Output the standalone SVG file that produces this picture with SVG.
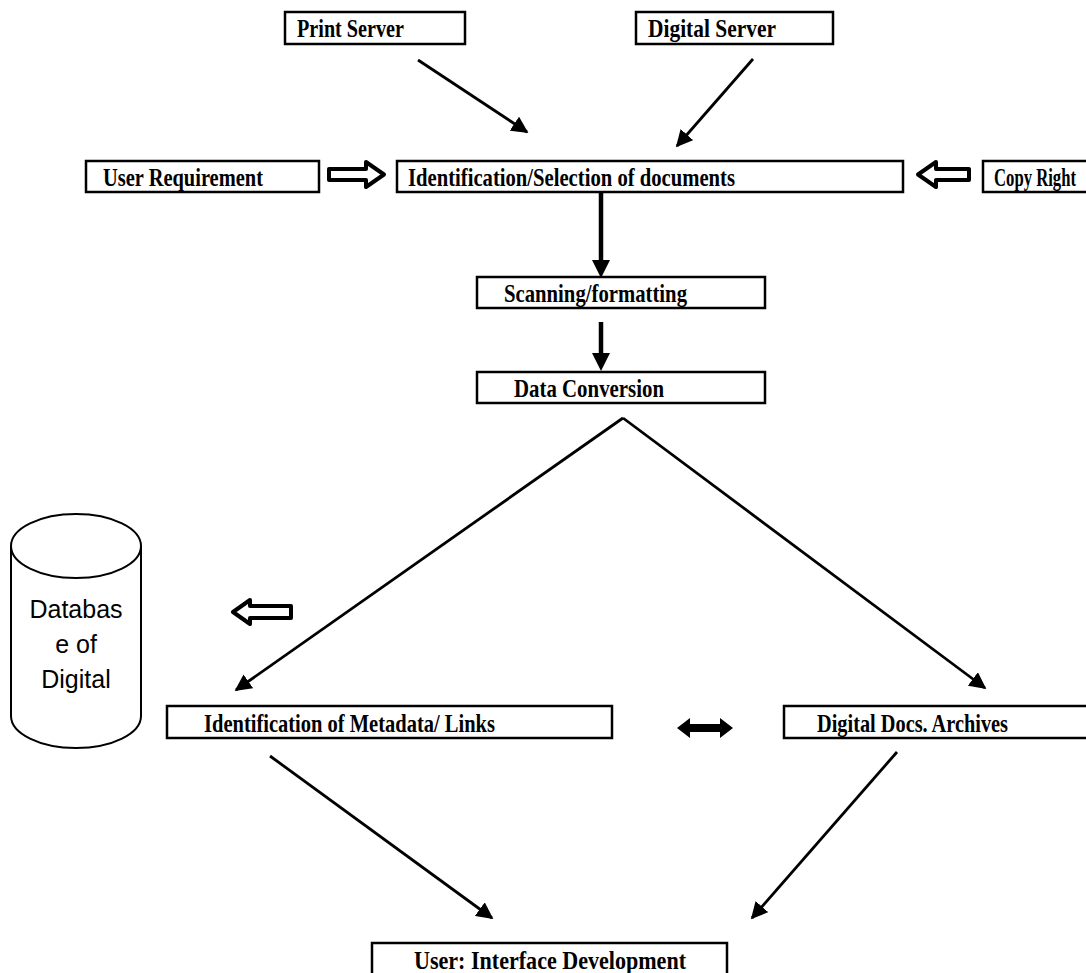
<svg xmlns="http://www.w3.org/2000/svg" width="1086" height="973" viewBox="0 0 1086 973">
<defs>
<style>
.box{fill:#fff;stroke:#000;stroke-width:2.5}
.lbl{font-family:"Liberation Serif","Times New Roman",serif;font-weight:bold;font-size:25px;fill:#000}
.db{font-family:"Liberation Sans",Arial,sans-serif;font-size:25px;fill:#000}
.ln{stroke:#000;stroke-width:2.8;fill:none}
.thick{stroke:#000;stroke-width:4.5;fill:none}
.hollow{fill:#fff;stroke:#000;stroke-width:4;stroke-linejoin:round}
</style>
<marker id="ah" viewBox="0 0 10 10" refX="9" refY="5" markerWidth="6" markerHeight="6" markerUnits="strokeWidth" orient="auto"><path d="M0,0 L10,5 L0,10 z" fill="#000"/></marker>
</defs>
<rect width="1086" height="973" fill="#fff"/>

<g id="print-server"><rect class="box" x="285" y="12" width="180" height="32"/><text class="lbl" x="297" y="37" textLength="107" lengthAdjust="spacingAndGlyphs">Print Server</text></g>
<g id="digital-server"><rect class="box" x="636" y="12" width="197" height="32"/><text class="lbl" x="648" y="37" textLength="128" lengthAdjust="spacingAndGlyphs">Digital  Server</text></g>
<g id="user-requirement"><rect class="box" x="86" y="161" width="233" height="31"/><text class="lbl" x="103" y="186" textLength="160" lengthAdjust="spacingAndGlyphs">User Requirement</text></g>
<g id="identification-selection"><rect class="box" x="397" y="161" width="506" height="31"/><text class="lbl" x="408" y="186" textLength="327" lengthAdjust="spacingAndGlyphs">Identification/Selection of documents</text></g>
<g id="copy-right"><rect class="box" x="983" y="161" width="120" height="31"/><text class="lbl" x="994" y="186" textLength="82" lengthAdjust="spacingAndGlyphs">Copy Right</text></g>
<g id="scanning"><rect class="box" x="477" y="277" width="288" height="31"/><text class="lbl" x="504" y="302" textLength="183" lengthAdjust="spacingAndGlyphs">Scanning/formatting</text></g>
<g id="data-conversion"><rect class="box" x="477" y="372" width="288" height="31"/><text class="lbl" x="514" y="397" textLength="150" lengthAdjust="spacingAndGlyphs">Data Conversion</text></g>
<g id="database"><path class="ln" d="M11,546 A65,32 0 0 1 141,546 L141,716 A65,32 0 0 1 11,716 Z" style="stroke-width:2"/><path class="ln" d="M11,546 A65,32 0 0 0 141,546" style="stroke-width:2"/>
<text class="db" x="76" y="618" text-anchor="middle">Databas</text><text class="db" x="76" y="653" text-anchor="middle">e of</text><text class="db" x="76" y="688" text-anchor="middle">Digital</text></g>
<g id="metadata"><rect class="box" x="167" y="706" width="445" height="32"/><text class="lbl" x="204" y="732" textLength="291" lengthAdjust="spacingAndGlyphs">Identification of Metadata/ Links</text></g>
<g id="digital-docs"><rect class="box" x="784" y="706" width="320" height="32"/><text class="lbl" x="817" y="732" textLength="191" lengthAdjust="spacingAndGlyphs">Digital Docs. Archives</text></g>
<g id="user-interface"><rect class="box" x="372" y="943" width="355" height="50"/><text class="lbl" x="414" y="969" textLength="272" lengthAdjust="spacingAndGlyphs">User: Interface Development</text></g>

<g id="connectors">
<line class="ln" x1="418" y1="60" x2="527" y2="132" marker-end="url(#ah)"/>
<line class="ln" x1="753" y1="59" x2="677" y2="146" marker-end="url(#ah)"/>
<polygon class="hollow" points="329,169 366,169 366,162 384,174.5 366,187 366,180 329,180"/>
<polygon class="hollow" points="969,169 936,169 936,162 918,174.5 936,187 936,180 969,180"/>
<line class="thick" x1="601" y1="192" x2="601" y2="262"/><polygon points="592,260 610,260 601,278"/>
<line class="thick" x1="601" y1="322" x2="601" y2="355"/><polygon points="592,353 610,353 601,371"/>
<line class="ln" x1="623" y1="418" x2="236" y2="690" marker-end="url(#ah)"/>
<line class="ln" x1="623" y1="418" x2="985" y2="688" marker-end="url(#ah)"/>
<polygon class="hollow" points="291,606 250,606 250,600 233,612 250,624 250,618 291,618"/>
<polygon points="677,728 690,718 690,724 720,724 720,718 733,728 720,738 720,732 690,732 690,738"/>
<line class="ln" x1="270" y1="756" x2="492" y2="918" marker-end="url(#ah)"/>
<line class="ln" x1="897" y1="752" x2="752" y2="918" marker-end="url(#ah)"/>
</g>
</svg>
